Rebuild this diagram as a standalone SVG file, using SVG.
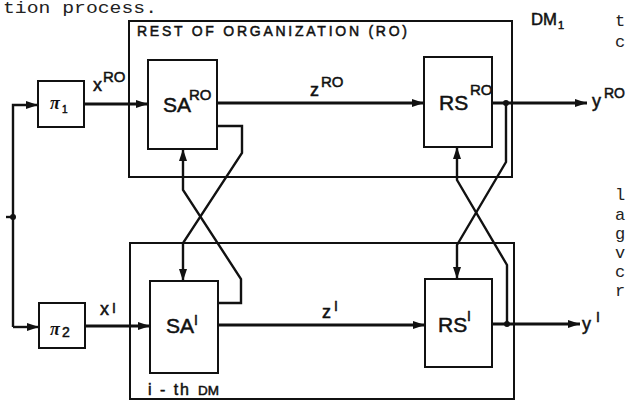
<svg xmlns="http://www.w3.org/2000/svg" width="626" height="401" viewBox="0 0 626 401">
<defs>
<marker id="ah" markerUnits="userSpaceOnUse" markerWidth="13" markerHeight="9" refX="12" refY="4.5" orient="auto"><path d="M0,0.5 L12,4.5 L0,8.5 z" fill="#111"/></marker>
</defs>
<style>
.bx{fill:#fff;stroke:#111;stroke-width:2}
.fr{fill:none;stroke:#111;stroke-width:2}
.ln{fill:none;stroke:#111;stroke-width:2.4}
.mn{fill:none;stroke:#111;stroke-width:2.8}
.t{font-family:"Liberation Sans",Arial,sans-serif;fill:#111;stroke:#111;stroke-width:0.5}
.pi{font-family:"Liberation Serif","Times New Roman",serif;font-style:italic;font-weight:bold;fill:#111}
.tw{font-family:"Liberation Mono","Courier New",monospace;fill:#222;font-size:17px}
.dot{fill:#111}
</style>
<rect width="626" height="401" fill="#fff"/>

<g id="page-text">
<text class="tw" x="3" y="13" font-size="18" textLength="154" lengthAdjust="spacingAndGlyphs">tion process.</text>
<text class="tw" x="615" y="26">t</text>
<text class="tw" x="615" y="47">c</text>
<text class="tw" x="615" y="200">l</text>
<text class="tw" x="615" y="220">a</text>
<text class="tw" x="615" y="239">g</text>
<text class="tw" x="615" y="258">v</text>
<text class="tw" x="615" y="277">c</text>
<text class="tw" x="615" y="296">r</text>
</g>

<g id="ro-frame">
<rect class="fr" x="129" y="21" width="383" height="156"/>
<text class="t" x="137" y="36" font-size="14" textLength="270" lengthAdjust="spacing">REST OF ORGANIZATION (RO)</text>
<text class="t" x="531" y="25" font-size="16" textLength="26" lengthAdjust="spacingAndGlyphs">DM</text>
<text class="t" x="558" y="29" font-size="11">1</text>
</g>

<g id="dm-frame">
<rect class="fr" x="130" y="243" width="384" height="156"/>
<text class="t" x="148" y="395" font-size="16" textLength="41" lengthAdjust="spacing">i - th</text>
<text class="t" x="198" y="395" font-size="13" textLength="21" lengthAdjust="spacingAndGlyphs">DM</text>
</g>

<g id="connectors">
<path class="ln" d="M13,327 L13,105 L38,105" marker-end="url(#ah)"/>
<path class="ln" d="M13,327 L39,327" marker-end="url(#ah)"/>
<path class="ln" d="M6,217 L13,217"/>
<circle class="dot" cx="13" cy="217" r="3"/>
<path class="mn" d="M84,104 L148,104" marker-end="url(#ah)"/>
<path class="mn" d="M85,326 L150,326" marker-end="url(#ah)"/>
<path class="mn" d="M217,103 L424,103" marker-end="url(#ah)"/>
<path class="mn" d="M218,325 L425,325" marker-end="url(#ah)"/>
<path class="mn" d="M492,103 L587,103" marker-end="url(#ah)"/>
<path class="mn" d="M492,324 L580,324" marker-end="url(#ah)"/>
<circle class="dot" cx="506" cy="103" r="3"/>
<circle class="dot" cx="507" cy="324" r="3"/>
<path class="ln" d="M217,126 L242,126 L242,153 L183,243 L183,281" marker-end="url(#ah)"/>
<path class="ln" d="M218,303 L241,303 L241,279 L183,190 L183,149" marker-end="url(#ah)"/>
<path class="ln" d="M506,103 L506,162 L457,245 L457,279" marker-end="url(#ah)"/>
<path class="ln" d="M507,324 L507,265 L457,180 L457,147" marker-end="url(#ah)"/>
</g>

<g id="pi1">
<rect class="bx" x="38" y="81" width="46" height="46"/>
<text class="pi" x="50" y="109" font-size="18">π</text>
<text class="t" x="62" y="113" font-size="10">1</text>
</g>

<g id="pi2">
<rect class="bx" x="39" y="303" width="46" height="45"/>
<text class="pi" x="50" y="335" font-size="18">π</text>
<text class="t" x="62" y="337" font-size="14">2</text>
</g>

<g id="labels">
<text class="t" x="93" y="91" font-size="18">x</text>
<text class="t" x="103" y="82" font-size="15">RO</text>
<text class="t" x="100" y="315" font-size="18">x</text>
<text class="t" x="112" y="313" font-size="14">I</text>
<text class="t" x="310" y="96" font-size="18">z</text>
<text class="t" x="321" y="87" font-size="15">RO</text>
<text class="t" x="322" y="318" font-size="18">z</text>
<text class="t" x="334" y="311" font-size="14">I</text>
<text class="t" x="592" y="107" font-size="18">y</text>
<text class="t" x="604" y="98" font-size="14" textLength="21" lengthAdjust="spacingAndGlyphs">RO</text>
<text class="t" x="582" y="330" font-size="18">y</text>
<text class="t" x="596" y="322" font-size="14">I</text>
</g>

<g id="sa-ro">
<rect class="bx" x="148" y="60" width="69" height="89"/>
<text class="t" x="163" y="112" font-size="21">SA</text>
<text class="t" x="189" y="100" font-size="15">RO</text>
</g>

<g id="rs-ro">
<rect class="bx" x="424" y="57" width="68" height="90"/>
<text class="t" x="439" y="110" font-size="21">RS</text>
<text class="t" x="470" y="95" font-size="15">RO</text>
</g>

<g id="sa-i">
<rect class="bx" x="150" y="281" width="68" height="92"/>
<text class="t" x="166" y="333" font-size="21">SA</text>
<text class="t" x="194" y="325" font-size="14">I</text>
</g>

<g id="rs-i">
<rect class="bx" x="425" y="279" width="67" height="88"/>
<text class="t" x="438" y="332" font-size="21">RS</text>
<text class="t" x="467" y="321" font-size="14">I</text>
</g>
</svg>
